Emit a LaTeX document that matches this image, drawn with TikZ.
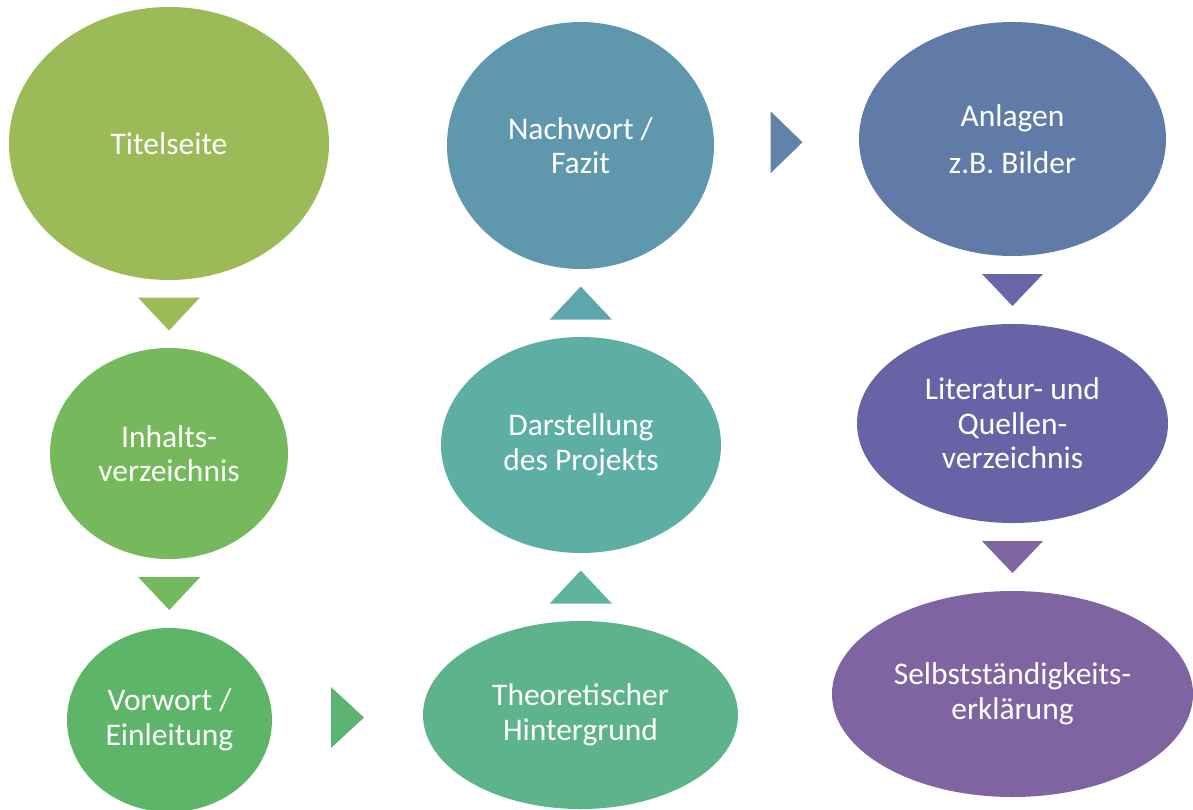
\documentclass[tikz,border=0pt]{standalone}
\usepackage{fontspec}
\setmainfont{Carlito}
\usetikzlibrary{shapes.geometric,calc}
\definecolor{cTit}{HTML}{9BBB59}
\definecolor{cInh}{HTML}{76B85C}
\definecolor{cVor}{HTML}{5DB56A}
\definecolor{cTheo}{HTML}{5EB48A}
\definecolor{cDar}{HTML}{5DAFA6}
\definecolor{cNach}{HTML}{5F97AD}
\definecolor{cAnl}{HTML}{617BA9}
\definecolor{cLit}{HTML}{6863A6}
\definecolor{cSelb}{HTML}{8064A2}
\definecolor{tA}{HTML}{9BBB59}
\definecolor{tB}{HTML}{75B95E}
\definecolor{tC}{HTML}{5CB470}
\definecolor{tD}{HTML}{5DB39B}
\definecolor{tE}{HTML}{5EA6AD}
\definecolor{tF}{HTML}{6082AB}
\definecolor{tG}{HTML}{6865A8}
\definecolor{tH}{HTML}{7F66A3}
\tikzset{
  blob/.style={ellipse,inner sep=0pt,text=white,align=center,
    font=\fontsize{31.5}{34.5}\selectfont}
}
\begin{document}
\begin{tikzpicture}[x=1pt,y=-1pt]
\useasboundingbox (0,0) rectangle (1193,809);
% left column
\node[blob,fill=cTit,minimum width=320pt,minimum height=273pt] (tit) at (169,143.5) {Titelseite};
\node[blob,fill=cInh,minimum width=238pt,minimum height=211pt] (inh) at (169,453.5) {Inhalts-\\verzeichnis};
\node[blob,fill=cVor,minimum width=205pt,minimum height=184pt] (vor) at (169.5,720) {Vorwort /\\Einleitung};
% middle column
\node[blob,fill=cTheo,minimum width=315pt,minimum height=188pt] (theo) at (580.5,715) {Theoretischer\\Hintergrund};
\node[blob,fill=cDar,minimum width=280pt,minimum height=216pt] (dar) at (581,445) {Darstellung\\des Projekts};
\node[blob,fill=cNach,minimum width=267pt,minimum height=247pt] (nach) at (580.5,145.5) {Nachwort /\\Fazit};
% right column
\node[blob,fill=cAnl,minimum width=307pt,minimum height=234pt] (anl) at (1012.5,139) {Anlagen\\[13pt]z.B. Bilder};
\node[blob,fill=cLit,minimum width=311pt,minimum height=199pt] (lit) at (1012.5,423.5) {Literatur- und\\Quellen-\\verzeichnis};
\node[blob,fill=cSelb,minimum width=361pt,minimum height=206pt] (selb) at (1012.5,694) {Selbstst\"andigkeits-\\erkl\"arung};
% triangles between the blobs
\coordinate (a1) at ($(tit.south)!.5!(inh.north)$);
\coordinate (a2) at ($(inh.south)!.5!(vor.north)$);
\coordinate (a3) at ($(vor.east)!.5!(theo.west)$);
\coordinate (a4) at ($(theo.north)!.5!(dar.south)$);
\coordinate (a5) at ($(dar.north)!.5!(nach.south)$);
\coordinate (a6) at ($(nach.east)!.5!(anl.west)$);
\coordinate (a7) at ($(anl.south)!.5!(lit.north)$);
\coordinate (a8) at ($(lit.south)!.5!(selb.north)$);
\fill[tA] (a1) ++(-31,-16.5) -- ++(62,0) -- ++(-31,33) -- cycle;
\fill[tB] (a2) ++(-31,-16.5) -- ++(62,0) -- ++(-31,33) -- cycle;
\fill[tC] (a3) ++(-16.5,-30.5) -- ++(0,61) -- ++(33,-30.5) -- cycle;
\fill[tD] (a4) ++(-31,16.5) -- ++(62,0) -- ++(-31,-33) -- cycle;
\fill[tE] (a5) ++(-31,16.5) -- ++(62,0) -- ++(-31,-33) -- cycle;
\fill[tF] (a6) ++(-16,-31) -- ++(0,62) -- ++(32,-31) -- cycle;
\fill[tG] (a7) ++(-30.5,-16) -- ++(61,0) -- ++(-30.5,32) -- cycle;
\fill[tH] (a8) ++(-30.5,-16) -- ++(61,0) -- ++(-30.5,32) -- cycle;
\end{tikzpicture}
\end{document}
